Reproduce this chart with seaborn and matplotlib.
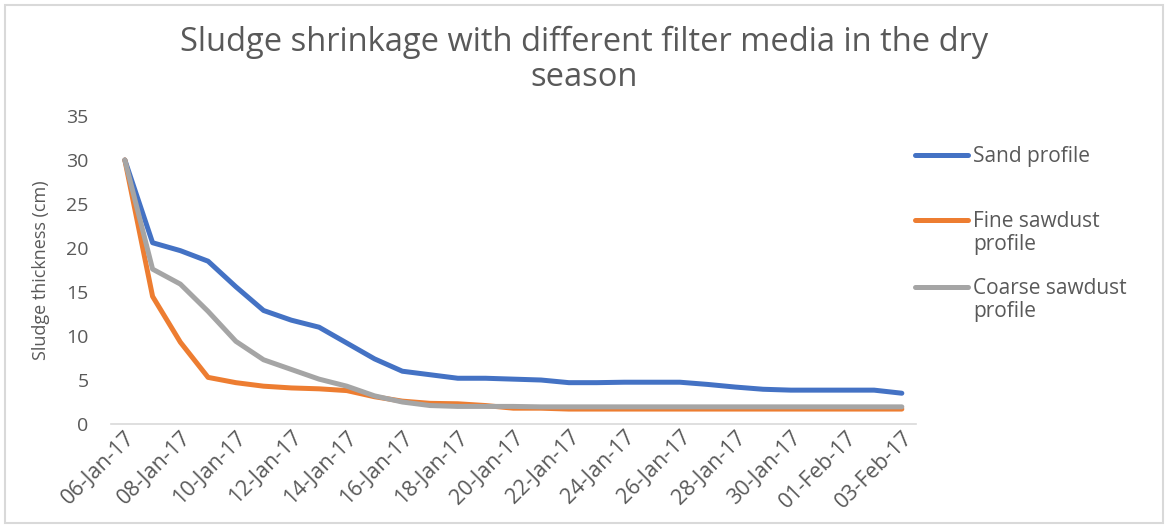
import numpy as np
import pandas as pd
import matplotlib
matplotlib.use("Agg")
import matplotlib.pyplot as plt
import matplotlib.dates as mdates
from matplotlib.lines import Line2D
from matplotlib.patches import Rectangle
import seaborn as sns

# Daily sludge thickness readings (cm), 06-Jan-17 to 03-Feb-17
dates = pd.date_range("2017-01-06", "2017-02-03", freq="D")

sand = [30, 20.6, 19.7, 18.5, 15.6, 12.9, 11.8, 11.0, 9.2, 7.4, 6.0, 5.6, 5.2,
        5.2, 5.1, 5.0, 4.7, 4.7, 4.75, 4.75, 4.75, 4.5, 4.2, 3.95, 3.85, 3.85,
        3.85, 3.85, 3.5]
fine_sawdust = [30, 14.5, 9.3, 5.3, 4.7, 4.3, 4.1, 4.0, 3.8, 3.1, 2.6, 2.35, 2.3,
                2.1, 1.8, 1.8, 1.7, 1.7, 1.7, 1.7, 1.7, 1.7, 1.7, 1.7, 1.7, 1.7,
                1.7, 1.7, 1.7]
coarse_sawdust = [30, 17.6, 15.9, 12.8, 9.4, 7.3, 6.2, 5.1, 4.3, 3.2, 2.5, 2.1, 2.0,
                  2.0, 2.0, 1.95, 1.95, 1.95, 1.95, 1.95, 1.95, 1.95, 1.95, 1.95,
                  1.95, 1.95, 1.95, 1.95, 1.95]

series_names = ["Sand profile", "Fine sawdust\nprofile", "Coarse sawdust\nprofile"]
series_values = [sand, fine_sawdust, coarse_sawdust]
colors = ["#4472C4", "#ED7D31", "#A5A5A5"]

y_ticks = [0, 5, 10, 15, 20, 25, 30, 35]

df = pd.concat(
    [pd.DataFrame({"date": dates, "thickness": v, "series": n})
     for n, v in zip(series_names, series_values)],
    ignore_index=True,
)

sns.set_theme(style="white")
plt.rcParams["font.family"] = ["Open Sans", "DejaVu Sans"]

text_grey = "#595959"

fig = plt.figure(figsize=(11.68, 5.27), dpi=100)
ax = fig.add_axes([0.095, 0.1954, 0.689, 0.5845])

sns.lineplot(data=df, x="date", y="thickness", hue="series",
             hue_order=series_names, palette=colors, linewidth=3.6,
             legend=False, ax=ax, solid_capstyle="round",
             solid_joinstyle="round")

half_day = pd.Timedelta(hours=12)
ax.set_xlim(dates[0] - half_day, dates[-1] + half_day)
ax.set_ylim(0, 35)
ax.set_yticks(y_ticks)
ax.xaxis.set_major_formatter(mdates.DateFormatter("%d-%b-%y"))
ax.set_xticks(dates[::2])

for side in ["top", "right", "left"]:
    ax.spines[side].set_visible(False)
ax.spines["bottom"].set_color("#D9D9D9")
ax.spines["bottom"].set_linewidth(1.2)

ax.tick_params(axis="y", length=0, labelsize=14, labelcolor=text_grey, pad=16)
ax.tick_params(axis="x", length=0, labelsize=15.5, labelcolor=text_grey, pad=2)
for lbl in ax.get_xticklabels():
    lbl.set_rotation(45)
    lbl.set_ha("right")
    lbl.set_rotation_mode("anchor")

ax.set_xlabel("")
ax.set_ylabel("Sludge thickness (cm)", fontsize=13, color=text_grey, labelpad=12)

fig.suptitle("Sludge shrinkage with different filter media in the dry\nseason",
             x=0.5, y=0.952, fontsize=23.5, color=text_grey, linespacing=1.1)

# Legend entries on the right, handles aligned with the first text line
legend_y = [155, 220, 287]
H = 527.0
for name, col, yp in zip(series_names, colors, legend_y):
    yf = 1 - yp / H
    fig.add_artist(Line2D([915 / 1168, 968 / 1168], [yf, yf],
                          transform=fig.transFigure, color=col, lw=3.6,
                          solid_capstyle="round"))
    fig.text(973 / 1168, yf + 9 / H, name, transform=fig.transFigure,
             ha="left", va="top", fontsize=15, color=text_grey,
             linespacing=1.15)

# Chart border
fig.add_artist(Rectangle((5 / 1168, 4 / H), 1158 / 1168, 518 / H,
                         transform=fig.transFigure, fill=False,
                         edgecolor="#D9D9D9", linewidth=1.5))

fig.savefig("out.png", dpi=100)
